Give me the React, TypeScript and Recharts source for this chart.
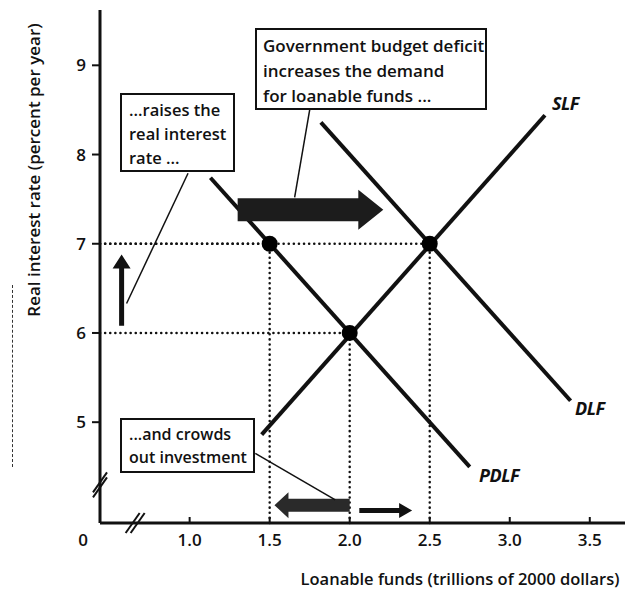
import React from 'react';
import {
  ComposedChart,
  Line,
  Scatter,
  XAxis,
  YAxis,
  ReferenceLine,
  ReferenceDot,
} from 'recharts';

// loanable funds (trillions of 2000 dollars) vs real interest rate (%)
const slfLine = [
  { q: 1.45, r: 4.86 },
  { q: 3.22, r: 8.44 },
];
const pdlfLine = [
  { q: 1.13, r: 7.74 },
  { q: 2.75, r: 4.5 },
];
const dlfLine = [
  { q: 1.82, r: 8.36 },
  { q: 3.38, r: 5.24 },
];
const equilibria = [
  { q: 1.5, r: 7 },
  { q: 2.0, r: 6 },
  { q: 2.5, r: 7 },
];
const xTicks = [0.44, 1.0, 1.5, 2.0, 2.5, 3.0, 3.5];
const yTicks = [5, 6, 7, 8, 9];

const X_MIN = 0.44;
const X_MAX = 3.72;
const Y_MIN = 3.87;
const Y_MAX = 9.62;

const FONT = '"Open Sans", "DejaVu Sans", sans-serif';
const INK = '#111';

function arrowShape(body: number, head: number, headLen: number, fill: string) {
  return (p: any) => {
    const { x1, y1, x2, y2 } = p;
    const len = Math.hypot(x2 - x1, y2 - y1) || 1;
    const ux = (x2 - x1) / len;
    const uy = (y2 - y1) / len;
    const nx = -uy;
    const ny = ux;
    const bx = x2 - ux * headLen;
    const by = y2 - uy * headLen;
    const pts = [
      [x1 + nx * body / 2, y1 + ny * body / 2],
      [bx + nx * body / 2, by + ny * body / 2],
      [bx + nx * head / 2, by + ny * head / 2],
      [x2, y2],
      [bx - nx * head / 2, by - ny * head / 2],
      [bx - nx * body / 2, by - ny * body / 2],
      [x1 - nx * body / 2, y1 - ny * body / 2],
    ];
    return <polygon points={pts.map((q) => q.join(',')).join(' ')} fill={fill} />;
  };
}

const breakMark = (vertical: boolean) => (p: any) => {
  const { cx, cy } = p;
  const off = vertical ? [0, 5] : [5, 0];
  return (
    <g stroke={INK} strokeWidth={2}>
      <line x1={cx - 7} y1={cy + 10} x2={cx + 7} y2={cy - 10} />
      <line x1={cx - 7 + off[0]} y1={cy + 10 - off[1]} x2={cx + 7 + off[0]} y2={cy - 10 - off[1]} />
    </g>
  );
};

const XTick = (p: any) => {
  const { x, y, payload } = p;
  if (payload.value === X_MIN) {
    return (
      <text x={x - 17} y={y + 23} textAnchor="middle" fontSize={17} fontWeight={600} fill={INK} fontFamily={FONT}>
        0
      </text>
    );
  }
  return (
    <g>
      <line x1={x} y1={y} x2={x} y2={y - 6} stroke={INK} strokeWidth={2} />
      <text x={x} y={y + 23} textAnchor="middle" fontSize={17} fontWeight={600} fill={INK} fontFamily={FONT}>
        {payload.value.toFixed(1)}
      </text>
    </g>
  );
};

const box: React.CSSProperties = {
  position: 'absolute',
  border: '2px solid #111',
  background: '#fff',
  fontFamily: FONT,
  fontWeight: 600,
  color: INK,
  boxSizing: 'border-box',
  whiteSpace: 'nowrap',
};

const curveLabel: React.CSSProperties = {
  position: 'absolute',
  fontFamily: FONT,
  fontStyle: 'italic',
  fontWeight: 700,
  fontSize: 18,
  color: INK,
  lineHeight: '20px',
  letterSpacing: -0.5,
};

export default function App() {
  return (
    <div style={{ position: 'absolute', left: 0, top: 0, width: 633, height: 589, background: '#fff' }}>
      <ComposedChart width={633} height={589} margin={{ top: 10, right: 8, bottom: 36, left: 40 }}>
        <XAxis
          dataKey="q"
          type="number"
          domain={[X_MIN, X_MAX]}
          ticks={xTicks}
          height={30}
          tickSize={0}
          tickMargin={0}
          tickLine={false}
          tick={<XTick />}
          axisLine={{ stroke: INK, strokeWidth: 3 }}
          allowDataOverflow
        />
        <YAxis
          dataKey="r"
          type="number"
          domain={[Y_MIN, Y_MAX]}
          ticks={yTicks}
          width={60}
          tickSize={8}
          tickMargin={6}
          tickLine={{ stroke: INK, strokeWidth: 2 }}
          tick={{ fontSize: 17, fontWeight: 600, fill: INK, fontFamily: FONT }}
          axisLine={{ stroke: INK, strokeWidth: 3 }}
          allowDataOverflow
        />

        {equilibria.map((d, i) => (
          <ReferenceLine
            key={'v' + i}
            segment={[{ x: d.q, y: Y_MIN }, { x: d.q, y: d.r }]}
            stroke={INK}
            strokeWidth={2.5}
            strokeDasharray="0.1 5"
            strokeLinecap="round"
            ifOverflow="visible"
          />
        ))}
        {equilibria.map((d, i) => (
          <ReferenceLine
            key={'h' + i}
            segment={[{ x: X_MIN, y: d.r }, { x: d.q, y: d.r }]}
            stroke={INK}
            strokeWidth={2.5}
            strokeDasharray="0.1 5"
            strokeLinecap="round"
            ifOverflow="visible"
          />
        ))}

        <Line data={slfLine} dataKey="r" type="linear" stroke={INK} strokeWidth={4} dot={false} isAnimationActive={false} />
        <Line data={pdlfLine} dataKey="r" type="linear" stroke={INK} strokeWidth={4} dot={false} isAnimationActive={false} />
        <Line data={dlfLine} dataKey="r" type="linear" stroke={INK} strokeWidth={4} dot={false} isAnimationActive={false} />
        <Scatter
          data={equilibria}
          dataKey="r"
          isAnimationActive={false}
          shape={(p: any) => <circle cx={p.cx} cy={p.cy} r={8} fill="#000" />}
        />

        {/* demand shift arrow */}
        <ReferenceLine
          segment={[{ x: 1.3, y: 7.38 }, { x: 2.21, y: 7.38 }]}
          shape={arrowShape(23, 40, 25, '#1c1c1c')}
          ifOverflow="visible"
        />
        {/* interest rate rises */}
        <ReferenceLine
          segment={[{ x: 0.575, y: 6.08 }, { x: 0.575, y: 6.88 }]}
          shape={arrowShape(5, 18, 14, INK)}
          ifOverflow="visible"
        />
        {/* investment crowded out */}
        <ReferenceLine
          segment={[{ x: 2.0, y: 4.07 }, { x: 1.53, y: 4.07 }]}
          shape={arrowShape(13, 26, 14, '#2a2a2a')}
          ifOverflow="visible"
        />
        {/* saving increases */}
        <ReferenceLine
          segment={[{ x: 2.06, y: 4.01 }, { x: 2.39, y: 4.01 }]}
          shape={arrowShape(5, 15, 13, INK)}
          ifOverflow="visible"
        />

        {/* pointers from the notes */}
        <ReferenceLine segment={[{ x: 1.75, y: 8.5 }, { x: 1.656, y: 7.52 }]} stroke={INK} strokeWidth={1.5} ifOverflow="visible" />
        <ReferenceLine segment={[{ x: 0.99, y: 7.79 }, { x: 0.606, y: 6.33 }]} stroke={INK} strokeWidth={1.5} ifOverflow="visible" />
        <ReferenceLine segment={[{ x: 1.41, y: 4.65 }, { x: 1.91, y: 4.13 }]} stroke={INK} strokeWidth={1.5} ifOverflow="visible" />

        {/* axis breaks */}
        <ReferenceDot x={X_MIN} y={4.27} shape={breakMark(true)} ifOverflow="visible" />
        <ReferenceDot x={0.644} y={Y_MIN} shape={breakMark(false)} ifOverflow="visible" />
      </ComposedChart>

      <div style={{ ...box, left: 255, top: 28, width: 232, height: 82, padding: '3px 0 0 6px', lineHeight: '25px', fontSize: 17 }}>
        Government budget deficit
        <br />
        increases the demand
        <br />
        for loanable funds ...
      </div>
      <div style={{ ...box, left: 120, top: 93, width: 115, height: 79, padding: '3px 0 0 7px', lineHeight: '24px', fontSize: 16.5 }}>
        ...raises the
        <br />
        real interest
        <br />
        rate ...
      </div>
      <div style={{ ...box, left: 120, top: 418, width: 135, height: 55, padding: '3px 0 0 7px', lineHeight: '23px', fontSize: 16 }}>
        ...and crowds
        <br />
        out investment
      </div>

      <div style={{ ...curveLabel, left: 552, top: 93 }}>SLF</div>
      <div style={{ ...curveLabel, left: 575, top: 398 }}>DLF</div>
      <div style={{ ...curveLabel, left: 479, top: 465 }}>PDLF</div>

      <div
        style={{
          position: 'absolute',
          left: 33,
          top: 170,
          transform: 'translate(-50%, -50%) rotate(-90deg)',
          fontFamily: FONT,
          fontWeight: 600,
          fontSize: 17,
          color: INK,
          whiteSpace: 'nowrap',
        }}
      >
        Real interest rate (percent per year)
      </div>
      <div
        style={{
          position: 'absolute',
          left: 460,
          top: 578,
          transform: 'translate(-50%, -50%)',
          fontFamily: FONT,
          fontWeight: 600,
          fontSize: 16.5,
          color: INK,
          whiteSpace: 'nowrap',
        }}
      >
        Loanable funds (trillions of 2000 dollars)
      </div>

      <div style={{ position: 'absolute', left: 12, top: 285, height: 182, borderLeft: '1px dashed #333' }} />
    </div>
  );
}
